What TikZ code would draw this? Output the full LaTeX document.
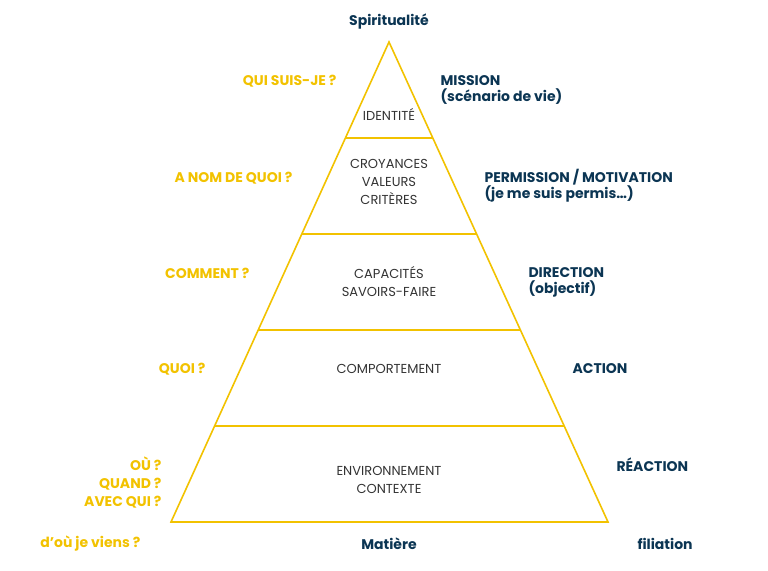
\documentclass[tikz,border=0pt]{standalone}
\usepackage{fontspec}
\setmainfont{Poppins}
\usetikzlibrary{positioning,calc}
\definecolor{pyrgold}{HTML}{F2C200}
\definecolor{pyrblue}{HTML}{0B3553}
\definecolor{pyrtext}{HTML}{333333}

\begin{document}
\begin{tikzpicture}[x=1pt,y=-1pt,
    question/.style={text=pyrgold, font=\fontsize{14}{16}\selectfont\bfseries, align=right, anchor=east},
    meaning/.style={text=pyrblue, font=\fontsize{14}{16}\selectfont\bfseries, align=left, anchor=west},
    level/.style={text=pyrtext, font=\fontsize{13}{18}\selectfont, align=center}
  ]
    \useasboundingbox (0,0) rectangle (768,570);
    % pyramid corners
    \coordinate (top) at (389,42);
    \coordinate (bl) at (171,522);
    \coordinate (br) at (608,522);
    \draw[pyrgold, line width=1.6pt, line join=miter] (top) -- (bl) -- (br) -- cycle;
    % level separators
    \foreach \y in {138,234,330,426} {
      \draw[pyrgold, line width=1.6pt]
        ($(top)!{(\y-42)/480}!(bl)$) -- ($(top)!{(\y-42)/480}!(br)$);
    }

    \node[level] (ident) at (389,114) {IDENTITÉ};
    \node[level] (croy) at (389,182) {CROYANCES\\VALEURS\\CRITÈRES};
    \node[level] (capa) at (389,282) {CAPACITÉS\\SAVOIRS-FAIRE};
    \node[level] (comp) at (389,369) {COMPORTEMENT};
    \node[level] (envi) at (389,480) {ENVIRONNEMENT\\CONTEXTE};

    \node[meaning, anchor=center] (spirit) at (389,22) {Spiritualité};
    \node[meaning, anchor=center] (matiere) at (389,544) {Matière};

    \node[question] (qui) at (340,81) {QUI SUIS-JE ?};
    \node[question] (nom) at (296,178) {A NOM DE QUOI ?};
    \node[question] (comment) at (253,273) {COMMENT ?};
    \node[question] (quoi) at (209,369) {QUOI ?};
    \node[question, font=\fontsize{14}{18}\selectfont\bfseries] (ou) at (165,483) {OÙ ?\\QUAND ?\\AVEC QUI ?};
    \node[question] (origine) at (144,544) {d'où je viens ?};

    \node[meaning] (mission) at (437,90) {MISSION\\(scénario de vie)};
    \node[meaning] (perm) at (481,186) {PERMISSION / MOTIVATION\\(je me suis permis…)};
    \node[meaning] (dir) at (525,282) {DIRECTION\\(objectif)};
    \node[meaning] (action) at (569,369) {ACTION};
    \node[meaning] (reac) at (613,465) {RÉACTION};
    \node[meaning] (filia) at (634,544) {filiation};
\end{tikzpicture}
\end{document}
